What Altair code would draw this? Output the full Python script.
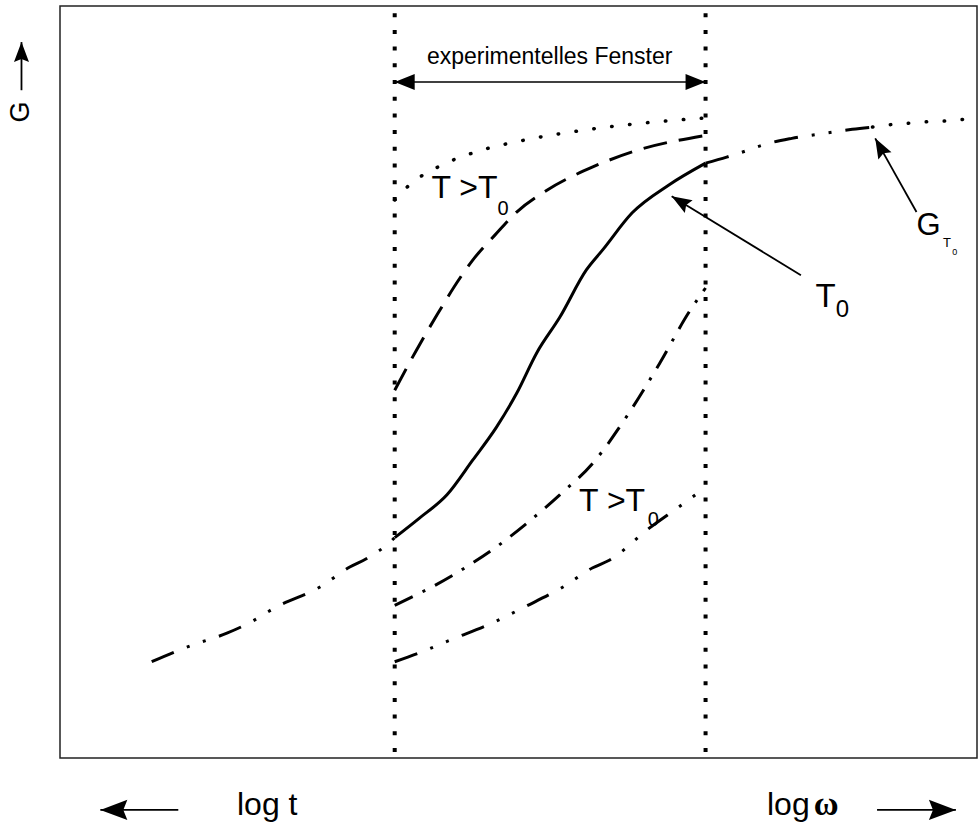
import altair as alt
import pandas as pd

# ---- data (axis units: x = log omega, 0..100 ; y = G, 0..100) ----
# master curve at T0
master_left_x = [10.0, 12.5, 14.4, 18.2, 20.7, 23.6, 28.3, 31.6, 33.4, 35.6, 36.5]
master_left_y = [12.8, 14.1, 15.0, 16.6, 18.0, 20.1, 22.7, 25.4, 26.5, 28.3, 29.3]
master_mid_x = [36.5, 39.2, 42.2, 45.0, 47.6, 49.8, 52.0, 54.5, 57.4, 59.2, 62.4, 66.4, 70.4]
master_mid_y = [29.3, 31.9, 35.0, 39.6, 44.0, 48.5, 53.9, 58.6, 64.9, 67.6, 72.5, 76.2, 79.1]
master_right_x = [70.4, 72.7, 75.2, 76.6, 79.8, 83.6, 86.4, 88.6]
master_right_y = [79.1, 79.9, 80.9, 81.5, 82.4, 83.1, 83.6, 83.9]
plateau_x = [88.6, 90.4, 92.4, 94.4, 96.4, 99.7]
plateau_y = [83.9, 84.2, 84.4, 84.6, 84.7, 85.1]
# curves inside the experimental window
upper_dot_x = [36.5, 38.1, 41.4, 45.1, 50.8, 56.6, 62.5, 70.3]
upper_dot_y = [74.2, 76.2, 78.7, 80.5, 82.2, 83.4, 84.3, 85.1]
upper_dash_x = [36.5, 38.9, 41.1, 43.6, 45.2, 47.4, 49.8, 53.1, 58.1, 62.4, 70.4]
upper_dash_y = [48.9, 54.3, 58.9, 63.8, 66.5, 69.5, 72.6, 75.5, 78.6, 80.6, 82.8]
lower_dd_x = [36.5, 39.2, 40.8, 44.7, 47.4, 50.7, 54.5, 58.1, 61.9, 65.4, 68.6, 70.4]
lower_dd_y = [20.3, 21.9, 22.9, 25.7, 27.9, 31.0, 35.0, 39.2, 45.6, 52.5, 59.3, 62.5]
lowest_x = [36.5, 39.2, 42.8, 47.2, 50.7, 54.8, 58.1, 59.9, 64.3, 67.5, 70.4]
lowest_y = [12.8, 14.0, 15.8, 18.0, 20.1, 22.7, 25.3, 26.3, 30.6, 33.4, 36.0]
# experimental window limits
window_x = [36.5, 70.4]
window_arrow_y = 89.9

# annotation arrows: tail (x, y) -> tip (x2, y2), head angle
arrow_x = [80.8, 93.4, -4.2, 12.9, 89.1]
arrow_y = [64.2, 72.6, 88.8, -6.9, -6.9]
arrow_x2 = [66.7, 88.9, -4.2, 4.4, 97.7]
arrow_y2 = [74.7, 82.4, 95.2, -6.9, -6.9]
arrow_angle = [211.3, 241.0, 270.0, 180.0, 0.0]
arrow_size = [400, 400, 400, 729, 729]

# labels
label_text = ["T >T", "0", "T >T", "0", "T", "0", "G", "T", "0", "log t", "log"]
label_x = [40.5, 47.7, 56.6, 64.1, 82.4, 84.6, 93.4, 96.3, 97.3, 19.3, 77.1]
label_y = [74.5, 72.2, 32.8, 30.9, 60.0, 58.6, 69.5, 67.9, 66.9, -7.6, -7.6]
label_size = [32, 20, 32, 20, 33, 24, 31, 13, 9, 32, 32]

W, H = 917, 752
xs = alt.Scale(domain=[0, 100], nice=False, zero=False)
ys = alt.Scale(domain=[0, 100], nice=False, zero=False)
X = lambda f="x": alt.X(f"{f}:Q", scale=xs, axis=None)
Y = lambda f="y": alt.Y(f"{f}:Q", scale=ys, axis=None)


def curve(xv, yv, width=3, dash=None, cap="butt"):
    df = pd.DataFrame({"x": xv, "y": yv, "i": list(range(len(xv)))})
    kw = dict(color="black", strokeWidth=width, strokeCap=cap, interpolate="monotone")
    if dash is not None:
        kw["strokeDash"] = dash
    return alt.Chart(df).mark_line(**kw).encode(x=X(), y=Y(), order="i:Q")


layers = []
# window lines
wdf = pd.DataFrame({"x": window_x, "y": [0.8, 0.8], "y2": [99.5, 99.5]})
layers.append(alt.Chart(wdf).mark_rule(color="black", strokeWidth=4, strokeDash=[4, 12.7])
              .encode(x=X(), y=Y(), y2="y2:Q"))
# double arrow
dadf = pd.DataFrame({"x": [window_x[0]], "x2": [window_x[1]], "y": [window_arrow_y]})
layers.append(alt.Chart(dadf).mark_rule(color="black", strokeWidth=1.6)
              .encode(x=X(), x2="x2:Q", y=Y()))
dhdf = pd.DataFrame({"x": window_x, "y": [window_arrow_y] * 2, "a": [180, 0]})
layers.append(alt.Chart(dhdf).mark_point(shape="M0,0L-2,-0.8L-2,0.8Z", filled=True,
                                         color="black", opacity=1, size=400)
              .encode(x=X(), y=Y(), angle=alt.Angle("a:Q", scale=None)))

# curves
ddot = [24, 14, 3, 14, 3, 14]
layers.append(curve(master_left_x, master_left_y, 3, ddot))
layers.append(curve(master_mid_x, master_mid_y, 3))
layers.append(curve(master_right_x, master_right_y, 3, ddot))
layers.append(curve(plateau_x, plateau_y, 3.5, [0.5, 17.5], "round"))
layers.append(curve(upper_dot_x, upper_dot_y, 3.5, [0.5, 17.5], "round"))
layers.append(curve(upper_dash_x, upper_dash_y, 3, [24, 12]))
layers.append(curve(lower_dd_x, lower_dd_y, 3, [20, 11, 3, 11]))
layers.append(curve(lowest_x, lowest_y, 3, ddot))

# annotation arrows
adf = pd.DataFrame({"x": arrow_x, "y": arrow_y, "x2": arrow_x2, "y2": arrow_y2,
                    "a": arrow_angle, "s": arrow_size})
layers.append(alt.Chart(adf).mark_rule(color="black", strokeWidth=1.8)
              .encode(x=X(), y=Y(), x2="x2:Q", y2="y2:Q"))
layers.append(alt.Chart(adf).mark_point(shape="M0,0L-2,-0.75L-1.7,0L-2,0.75Z", filled=True,
                                        color="black", opacity=1)
              .encode(x=X("x2"), y=Y("y2"), angle=alt.Angle("a:Q", scale=None),
                      size=alt.Size("s:Q", scale=None)))

# labels
ldf = pd.DataFrame({"x": label_x, "y": label_y, "t": label_text, "s": label_size})
layers.append(alt.Chart(ldf).mark_text(align="left", baseline="alphabetic", color="black",
                                       font="Liberation Sans, Arial, sans-serif")
              .encode(x=X(), y=Y(), text="t:N", size=alt.Size("s:Q", scale=None)))
tdf = pd.DataFrame({"x": [53.4], "y": [92.3], "t": ["experimentelles Fenster"]})
layers.append(alt.Chart(tdf).mark_text(align="center", baseline="alphabetic", color="black",
                                       fontSize=23, font="Liberation Sans, Arial, sans-serif")
              .encode(x=X(), y=Y(), text="t:N"))
gdf = pd.DataFrame({"x": [-4.2], "y": [85.9], "t": ["G"]})
layers.append(alt.Chart(gdf).mark_text(align="center", baseline="middle", color="black",
                                       fontSize=27, angle=270,
                                       font="Liberation Sans, Arial, sans-serif")
              .encode(x=X(), y=Y(), text="t:N"))
odf = pd.DataFrame({"x": [82.2], "y": [-7.6], "t": ["ω"]})
layers.append(alt.Chart(odf).mark_text(align="left", baseline="alphabetic", color="black",
                                       fontSize=34, fontWeight="bold",
                                       font="Liberation Serif, Times New Roman, serif")
              .encode(x=X(), y=Y(), text="t:N"))

chart = alt.layer(*layers).properties(
    width=W, height=H,
    autosize=alt.AutoSizeParams(type="none"),
    padding={"left": 60, "top": 6, "right": 1, "bottom": 68},
).configure_view(stroke="#222", strokeWidth=1.5)

chart.save("out.html", embed_options={"renderer": "svg", "actions": False})
